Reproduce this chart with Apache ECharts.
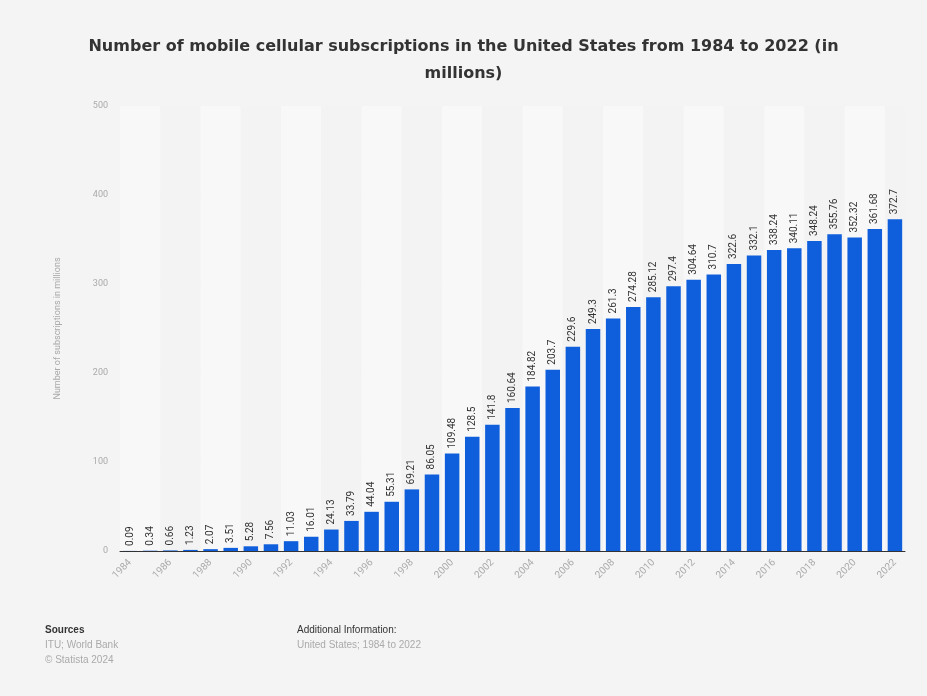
<!DOCTYPE html>
<html>
<head>
<meta charset="utf-8">
<title>Mobile cellular subscriptions US</title>
<script src="https://cdn.jsdelivr.net/npm/echarts@6/dist/echarts.min.js"></script>
<style>
  html, body { margin: 0; padding: 0; background: #f4f4f4; }
  #main { width: 927px; height: 696px; }
</style>
</head>
<body>
<div id="main"></div>
<script>
// years 1984 - 2022
var years = ['1984','1985','1986','1987','1988','1989','1990','1991','1992','1993',
  '1994','1995','1996','1997','1998','1999','2000','2001','2002','2003',
  '2004','2005','2006','2007','2008','2009','2010','2011','2012','2013',
  '2014','2015','2016','2017','2018','2019','2020','2021','2022'];

// subscriptions in millions
var subscriptions = [0.09, 0.34, 0.66, 1.23, 2.07, 3.51, 5.28, 7.56, 11.03, 16.01,
  24.13, 33.79, 44.04, 55.31, 69.21, 86.05, 109.48, 128.5, 141.8, 160.64,
  184.82, 203.7, 229.6, 249.3, 261.3, 274.28, 285.12, 297.4, 304.64, 310.7,
  322.6, 332.1, 338.24, 340.11, 348.24, 355.76, 352.32, 361.68, 372.7];

var yTicks = [0, 100, 200, 300, 400, 500];

var chart = echarts.init(document.getElementById('main'));
var option = {
  backgroundColor: '#f4f4f4',
  animation: false,
  textStyle: { fontFamily: 'Roboto, "Liberation Sans", Arial, sans-serif' },
  title: {
    text: 'Number of mobile cellular subscriptions in the United States from 1984 to 2022 (in\nmillions)',
    left: 'center',
    top: 28,
    textStyle: { fontSize: 16, fontWeight: 'bold', color: '#333', lineHeight: 27, fontFamily: '"DejaVu Sans", sans-serif' }
  },
  grid: { left: 120, right: 22, top: 106, bottom: 145 },
  xAxis: {
    type: 'category',
    data: years,
    axisLine: { lineStyle: { color: '#333', width: 1 } },
    axisTick: { show: false },
    axisLabel: { interval: 1, rotate: 45, color: '#aaa', fontSize: 10, margin: 10 },
    splitArea: { show: true, interval: 1, areaStyle: { color: ['#f8f8f8', '#f3f3f3'] } }
  },
  yAxis: {
    type: 'value',
    min: yTicks[0],
    max: yTicks[yTicks.length - 1],
    interval: 100,
    name: 'Number of subscriptions in millions',
    nameLocation: 'middle',
    nameGap: 58,
    nameTextStyle: { color: '#aaa', fontSize: 9 },
    axisLine: { show: false },
    axisTick: { show: false },
    axisLabel: { color: '#aaa', fontSize: 9, margin: 12 },
    splitLine: { lineStyle: { color: '#e6e6e6', width: 1 } }
  },
  series: [{
    type: 'bar',
    data: subscriptions,
    barCategoryGap: '28%',
    itemStyle: { color: '#0f5fdc' },
    label: {
      show: true,
      position: 'top',
      rotate: 90,
      align: 'left',
      verticalAlign: 'middle',
      distance: 5,
      color: '#333',
      fontSize: 10
    }
  }],
  graphic: [
    { type: 'text', left: 45, top: 625, style: { text: 'Sources', fill: '#333', fontSize: 10, fontWeight: 'bold' } },
    { type: 'text', left: 45, top: 640, style: { text: 'ITU; World Bank', fill: '#aaa', fontSize: 10 } },
    { type: 'text', left: 45, top: 655, style: { text: '© Statista 2024', fill: '#aaa', fontSize: 10 } },
    { type: 'text', left: 297, top: 625, style: { text: 'Additional Information:', fill: '#333', fontSize: 10 } },
    { type: 'text', left: 297, top: 640, style: { text: 'United States; 1984 to 2022', fill: '#aaa', fontSize: 10 } }
  ]
};
chart.setOption(option);
</script>
</body>
</html>
